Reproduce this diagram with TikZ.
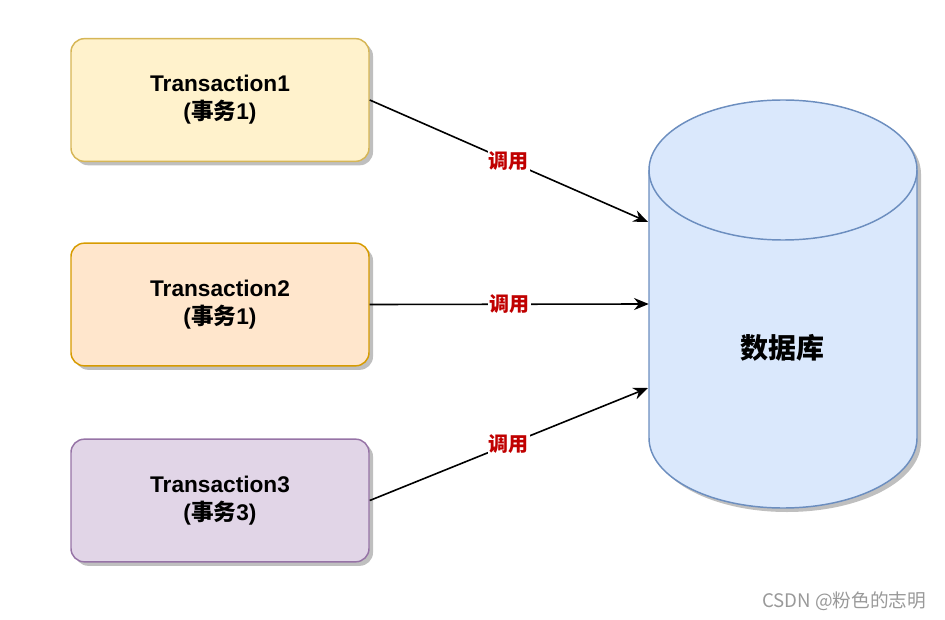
\documentclass[tikz,border=0pt]{standalone}
\usepackage{fontspec}
\setmainfont{Liberation Sans}
\newfontfamily\cjk{Noto Sans CJK SC}
\usetikzlibrary{shadows, arrows.meta}

\definecolor{yellowfill}{HTML}{FFF2CC}
\definecolor{yellowline}{HTML}{D6B656}
\definecolor{orangefill}{HTML}{FFE6CC}
\definecolor{orangeline}{HTML}{D79B00}
\definecolor{purplefill}{HTML}{E1D5E7}
\definecolor{purpleline}{HTML}{9673A6}
\definecolor{bluefill}{HTML}{DAE8FC}
\definecolor{blueline}{HTML}{6C8EBF}
\definecolor{labelred}{HTML}{C00000}

\tikzset{
  txbox/.style={draw, line width=1.1pt, rounded corners=10pt, minimum width=223.5pt, minimum height=92pt,
    align=center, font=\fontsize{17}{21}\selectfont\bfseries,
    drop shadow={shadow xshift=3pt, shadow yshift=-3pt, fill=black!25, opacity=1}},
  calllabel/.style={fill=white, inner sep=1pt, text=labelred, font=\cjk\fontsize{15}{18}\selectfont\bfseries},
  callarrow/.style={line width=1.2pt, -{Stealth[length=11pt, width=9pt]}}
}

\begin{document}
\begin{tikzpicture}[x=0.75pt,y=0.75pt,yscale=-1,xscale=1]
    \useasboundingbox (0,0) rectangle (945,620);

    %Shape: Rectangle [id:tx1]
    \node [txbox, fill=yellowfill, draw=yellowline] (tx1) at (220,100) {Transaction1\\({\cjk 事务}1)};
    %Shape: Rectangle [id:tx2]
    \node [txbox, fill=orangefill, draw=orangeline] (tx2) at (220,304.5) {Transaction2\\({\cjk 事务}1)};
    %Shape: Rectangle [id:tx3]
    \node [txbox, fill=purplefill, draw=purpleline] (tx3) at (220,500.5) {Transaction3\\({\cjk 事务}3)};

    %Shape: Can [id:db]
    \fill [black!25] (653,174) -- (653,442) arc [start angle=180, end angle=0, x radius=134, y radius=70]
      -- (921,174) arc [start angle=0, end angle=-180, x radius=134, y radius=70] -- cycle;
    \draw [draw=blueline, fill=bluefill, line width=1.1pt] (649,170) -- (649,438) arc [start angle=180, end angle=0, x radius=134, y radius=70]
      -- (917,170) arc [start angle=0, end angle=-180, x radius=134, y radius=70] -- cycle;
    \draw [draw=blueline, line width=1.1pt] (649,170) arc [start angle=180, end angle=0, x radius=134, y radius=70];
    \node [inner sep=0pt, minimum width=201pt, minimum height=306pt] (db) at (783,304) {};
    % Text Node
    \node [font=\cjk\fontsize{21}{25}\selectfont\bfseries] (dbtext) at (782,348) {数据库};

    \coordinate (in1) at (648,222);
    \coordinate (in3) at (648,388);

    %Straight Lines [id:call1]
    \draw [callarrow] (tx1.east) -- node [calllabel] (lab1) {调用} (in1);
    %Straight Lines [id:call2]
    \draw [callarrow] (tx2.east) -- node [calllabel] (lab2) {调用} (db.west);
    %Straight Lines [id:call3]
    \draw [callarrow] (tx3.east) -- node [calllabel] (lab3) {调用} (in3);

    % Text Node
    \node [anchor=east, text=black!40, font=\cjk\fontsize{14}{16}\selectfont] (mark) at (931,601) {CSDN @粉色的志明};

\end{tikzpicture}
\end{document}
